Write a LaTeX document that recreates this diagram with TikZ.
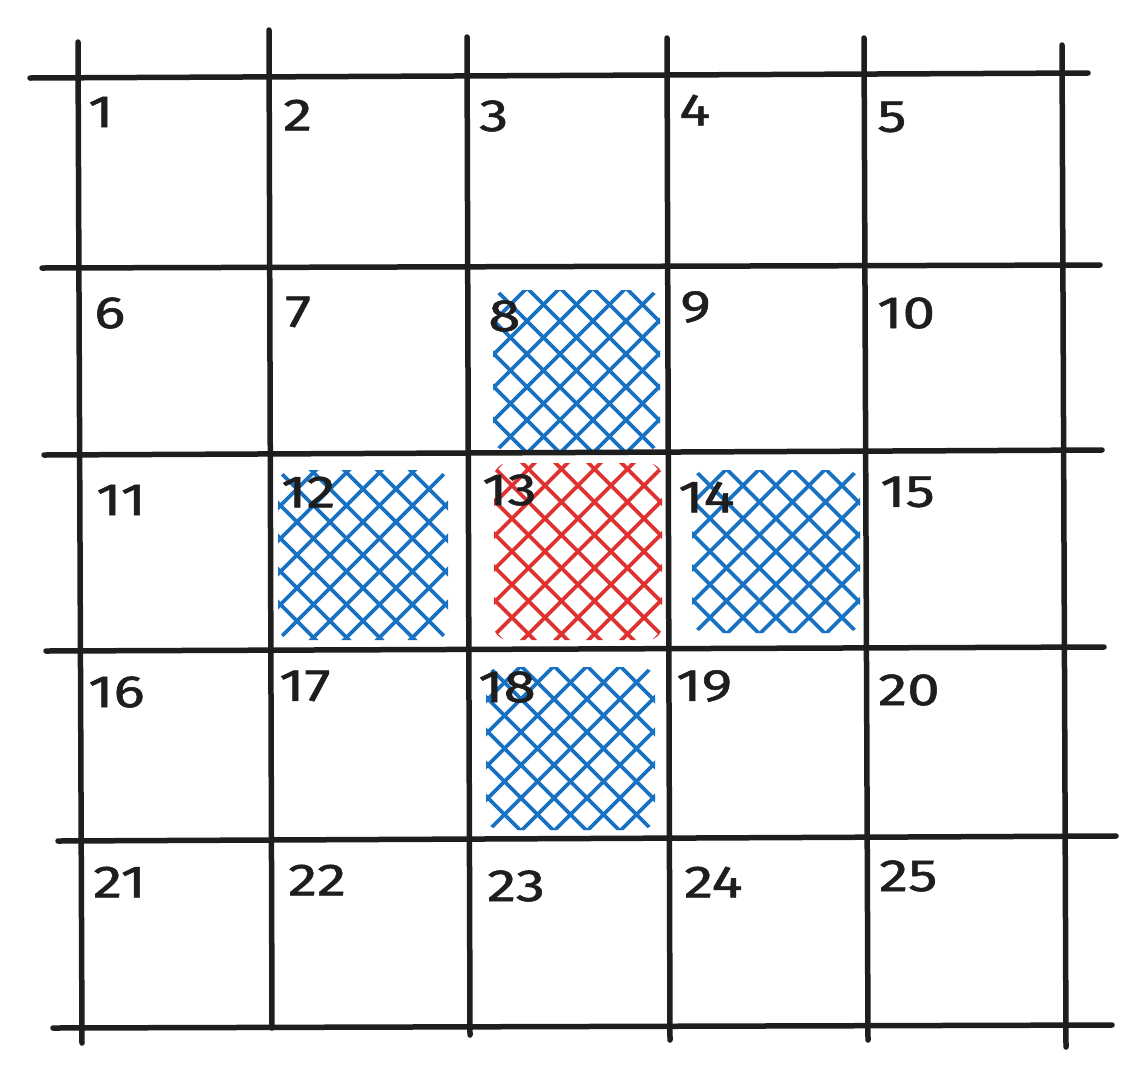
\documentclass[tikz,border=0pt]{standalone}
\usepackage{fontspec}
\setmainfont{Fira Sans}[FakeStretch=1.3,FakeBold=1.2]
\definecolor{ink}{HTML}{1E1E1E}
\definecolor{hblue}{HTML}{1971C2}
\definecolor{hred}{HTML}{E03131}
\tikzset{
  gridline/.style={draw=ink,line width=5.5pt,line cap=round},
  hatchline/.style={line width=3.8pt,line cap=round},
  numlabel/.style={anchor=west,inner sep=0pt,font=\fontsize{45}{50}\selectfont,text=ink}
}
\begin{document}
\begin{tikzpicture}[x=1pt,y=-1pt]
\useasboundingbox[fill=white] (0,0) rectangle (1145,1077);
% hatching
\foreach \xa/\ya/\xb/\yb/\col in {493/290/660/451/hblue, 278/470/448/640/hblue, 494/463/662/640/hred, 692/470/860/633/hblue, 486/667/655/830/hblue}{
  \begin{scope}
    \clip[rounded corners=14pt] (\xa,\ya) rectangle (\xb,\yb);
    \foreach \i in {-7,...,7}{
      \pgfmathsetmacro{\cx}{(\xa+\xb)/2+\i*33}
      \pgfmathsetmacro{\cy}{(\ya+\yb)/2}
      \draw[hatchline,draw=\col] (\cx-120,\cy-120) -- (\cx+120,\cy+120);
      \draw[hatchline,draw=\col] (\cx-120,\cy+120) -- (\cx+120,\cy-120);
    }
  \end{scope}
}
% vertical lines
\draw[gridline] (78,42) -- (82,1043);
\draw[gridline] (269,30) -- (272,1028);
\draw[gridline] (467,37) -- (470,1035);
\draw[gridline] (667,38) -- (670,1040);
\draw[gridline] (864,38) -- (868,1040);
\draw[gridline] (1062,45) -- (1066,1047);
% horizontal lines
\draw[gridline] (30,78) -- (1088,73);
\draw[gridline] (42,268) -- (1100,265);
\draw[gridline] (44,455) -- (1102,450);
\draw[gridline] (46,651) -- (1104,647);
\draw[gridline] (58,841) -- (1116,836);
\draw[gridline] (53,1028) -- (1112,1025);
% labels
\foreach \n/\x/\y in {1/88/112, 2/283/115, 3/479/116, 4/679/110, 5/877/117,
  6/94/313, 7/285/312, 8/488/316, 9/680/307, 10/877/313,
  11/96/500, 12/281/492, 13/482/490, 14/678/497, 15/880/492,
  16/88/692, 17/279/686, 18/478/687, 19/676/686, 20/878/690,
  21/93/882, 22/288/880, 23/487/886, 24/684/882, 25/879/876}{
  \node[numlabel] (n\n) at (\x,\y) {\n};
}
\end{tikzpicture}
\end{document}
